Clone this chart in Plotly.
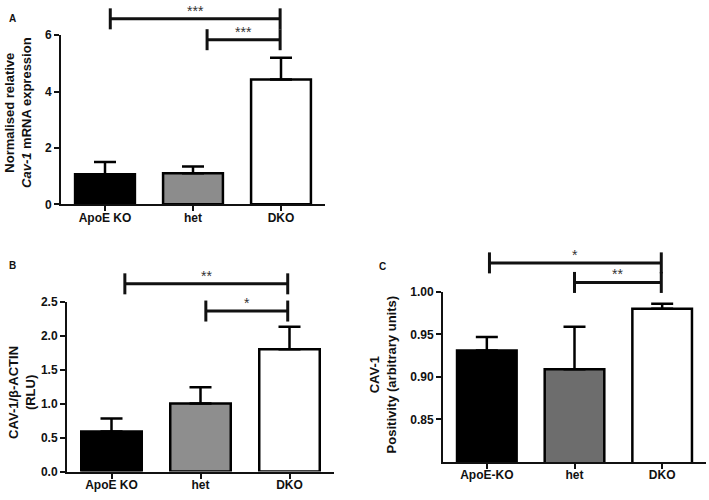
import plotly.graph_objects as go

# categories
groups_ab = ["ApoE KO", "het", "DKO"]
groups_c = ["ApoE-KO", "het", "DKO"]

# panel A: Cav-1 mRNA
mrna_mean = [1.07, 1.10, 4.43]
mrna_err = [0.43, 0.24, 0.77]
mrna_sig = [(0.06, 1.99, 6.58, "***"), (1.16, 1.99, 5.84, "***")]

# panel B: CAV-1 / beta-actin western
wb_mean = [0.59, 1.00, 1.80]
wb_err = [0.19, 0.24, 0.33]
wb_sig = [(0.15, 1.98, 2.76, "**"), (1.06, 1.98, 2.36, "*")]

# panel C: CAV-1 positivity
pos_mean = [0.931, 0.909, 0.980]
pos_err = [0.016, 0.050, 0.006]
pos_sig = [(0.03, 1.99, 1.034, "*"), (1.0, 1.99, 1.011, "**")]

W, H = 709, 500
FONT = "Liberation Sans"
bold = {"family": FONT, "size": 13, "color": "#111111", "weight": "bold"}
tickbold = {"family": FONT, "size": 12, "color": "#111111", "weight": "bold"}


def px_x(px):
    return px / W


def px_y(py):
    return 1 - py / H


# panel geometry in pixels: (left, right, top, bottom, y range, top of sig-bar area)
panels = {
    1: (61, 325, 29, 203, [0, 6], 0),
    2: (67, 334, 303, 478, [0, 2.5], 250),
    3: (443, 706, 293, 468, [0.80, 1.0], 240),
}


def add_panel(fig, idx, labels, means, errs, sig, het_color):
    xa = "x" if idx == 1 else f"x{idx}"
    ya = "y" if idx == 1 else f"y{idx}"
    sa = f"y{idx + 3}"  # invisible axis, same scale, taller domain
    pos = list(range(len(labels)))
    fig.add_trace(
        go.Bar(
            x=pos,
            y=means,
            width=0.68,
            marker={"color": ["#000000", het_color, "#ffffff"],
                    "line": {"color": "#000000", "width": 2.5}},
            error_y={"type": "data", "array": errs, "arrayminus": [0] * len(errs),
                     "color": "#000000", "thickness": 2.5, "width": 11},
            xaxis=xa, yaxis=ya, showlegend=False, hoverinfo="skip",
        )
    )
    for x0, x1, h, stars in sig:
        fig.add_trace(
            go.Scatter(
                x=[x0, x1], y=[h, h],
                mode="lines+markers",
                line={"color": "#111111", "width": 3},
                marker={"symbol": "line-ns", "size": 15,
                        "line": {"color": "#111111", "width": 3}},
                xaxis=xa, yaxis=sa, showlegend=False, hoverinfo="skip",
                cliponaxis=False,
            )
        )
        fig.add_annotation(
            x=(x0 + x1) / 2, y=h, xref=xa, yref=sa, text=stars,
            showarrow=False, yanchor="bottom", yshift=-2,
            font={"family": FONT, "size": 14, "color": "#333333"},
        )


fig = go.Figure()
add_panel(fig, 1, groups_ab, mrna_mean, mrna_err, mrna_sig, "#8c8c8c")
add_panel(fig, 2, groups_ab, wb_mean, wb_err, wb_sig, "#8e8e8e")
add_panel(fig, 3, groups_c, pos_mean, pos_err, pos_sig, "#6d6d6d")

axis_common = {
    "showline": True, "linecolor": "#111111", "linewidth": 2,
    "ticks": "outside", "ticklen": 5, "tickwidth": 2, "tickcolor": "#111111",
    "showgrid": False, "zeroline": False, "tickfont": tickbold,
}

layout = {}
tick_setup = {
    1: ({"tickvals": [0, 1, 2], "ticktext": groups_ab},
        {"tickvals": [0, 2, 4, 6]}),
    2: ({"tickvals": [0, 1, 2], "ticktext": groups_ab},
        {"tickvals": [0, 0.5, 1.0, 1.5, 2.0, 2.5], "tickformat": ".1f"}),
    3: ({"tickvals": [0, 1, 2], "ticktext": groups_c},
        {"tickvals": [0.85, 0.90, 0.95, 1.00], "tickformat": ".2f"}),
}
for idx, (left, right, top, bottom, yrng, sig_top) in panels.items():
    xk = "xaxis" if idx == 1 else f"xaxis{idx}"
    yk = "yaxis" if idx == 1 else f"yaxis{idx}"
    xa = "x" if idx == 1 else f"x{idx}"
    ya = "y" if idx == 1 else f"y{idx}"
    xt, yt = tick_setup[idx]
    layout[xk] = {**axis_common, **xt, "domain": [px_x(left), px_x(right)],
                  "range": [-0.5, 2.5], "anchor": ya, "ticklabelstandoff": -4}
    layout[yk] = {**axis_common, **yt, "domain": [px_y(bottom), px_y(top)],
                  "range": yrng, "anchor": xa}
    per_px = (yrng[1] - yrng[0]) / (bottom - top)
    layout[f"yaxis{idx + 3}"] = {
        "domain": [px_y(bottom), px_y(sig_top)],
        "range": [yrng[0], yrng[0] + per_px * (bottom - sig_top)],
        "anchor": xa, "visible": False, "showgrid": False, "zeroline": False,
    }

fig.update_layout(
    width=W, height=H,
    paper_bgcolor="white", plot_bgcolor="rgba(0,0,0,0)",
    margin={"l": 0, "r": 0, "t": 0, "b": 0},
    **layout,
)

# y axis titles and panel letters
ytitles = [
    (18, 109, "Normalised relative<br><i>Cav-1</i> mRNA expression"),
    (22, 397, "CAV-1/β-ACTIN<br>(RLU)"),
    (383, 379, "CAV-1<br>Positivity (arbitrary units)"),
]
for px, py, txt in ytitles:
    fig.add_annotation(
        x=px_x(px), y=px_y(py), xref="paper", yref="paper", text=txt,
        xanchor="center", yanchor="middle",
        textangle=-90, showarrow=False, font=bold,
    )
for px, py, letter in [(12, 12, "A"), (12, 266, "B"), (382, 267, "C")]:
    fig.add_annotation(
        x=px_x(px), y=px_y(py), xref="paper", yref="paper", text=letter,
        xanchor="center", yanchor="middle",
        showarrow=False, font={"family": FONT, "size": 10, "color": "#111111", "weight": "bold"},
    )

# the page body has a default 8px margin; drop it so the figure fills the window
fig.write_html("out.html", config={"displayModeBar": False},
               post_script="document.body.style.margin = '0';")
